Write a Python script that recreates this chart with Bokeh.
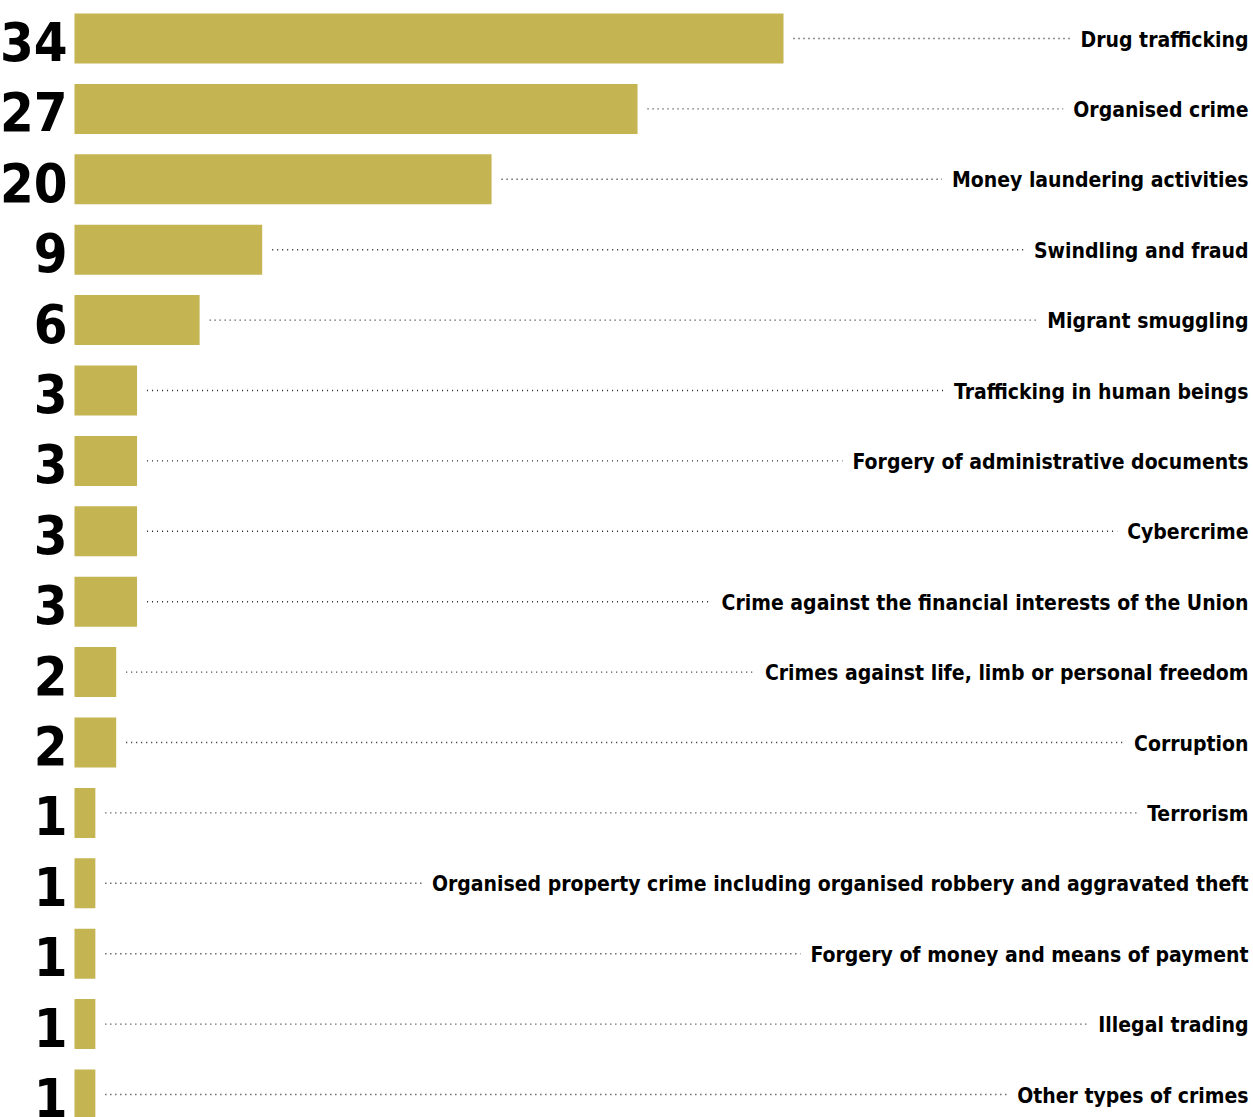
from bokeh.plotting import figure
from bokeh.models import ColumnDataSource, Range1d
from bokeh.core.properties import value
from bokeh.embed import file_html
from bokeh.resources import INLINE

categories = [
    "Drug trafficking",
    "Organised crime",
    "Money laundering activities",
    "Swindling and fraud",
    "Migrant smuggling",
    "Trafficking in human beings",
    "Forgery of administrative documents",
    "Cybercrime",
    "Crime against the financial interests of the Union",
    "Crimes against life, limb or personal freedom",
    "Corruption",
    "Terrorism",
    "Organised property crime including organised robbery and aggravated theft",
    "Forgery of money and means of payment",
    "Illegal trading",
    "Other types of crimes",
]
counts = [34, 27, 20, 9, 6, 3, 3, 3, 3, 2, 2, 1, 1, 1, 1, 1]

W, H = 1253, 1117
px_per_unit = (783 - 74) / 34.0
x_start = -74 / px_per_unit
x_end = (W - 74) / px_per_unit
pitch = 70.4
y_top = -38 / pitch
y_bot = y_top + H / pitch

rows = list(range(len(categories)))
src = ColumnDataSource(dict(
    y=rows,
    v=counts,
    lab=categories,
    num=[str(c) for c in counts],
    dot0=[c + 10 / px_per_unit for c in counts],
    dot1=[x_end] * len(counts),
    zero=[0] * len(counts),
    right=[x_end] * len(counts),
))

p = figure(width=W, height=H, output_backend="svg", toolbar_location=None,
           x_range=Range1d(x_start, x_end), y_range=Range1d(y_bot, y_top),
           min_border=0, outline_line_color=None)
p.axis.visible = False
p.grid.visible = False
p.background_fill_color = "white"
p.border_fill_color = "white"

p.hbar(y="y", left=0, right="v", height=50 / pitch, source=src,
       fill_color="#C4B452", line_color=None)

p.segment(x0="dot0", y0="y", x1="dot1", y1="y", source=src,
          line_color="#222222", line_width=1.4, line_dash="1 4")

p.text(x="right", y="y", text="lab", source=src, text_align="right",
       text_baseline="middle", x_offset=5, y_offset=1,
       text_font=value("DejaVu Sans Condensed"), text_font_style="bold",
       text_font_size="21px", text_color="black",
       background_fill_color="white", padding=10)

p.text(x="zero", y="y", text="num", source=src, text_align="right",
       text_baseline="middle", x_offset=-7, y_offset=3,
       text_font=value("DejaVu Sans Condensed"), text_font_style="bold",
       text_font_size="54px", text_color="black")

open("out.html", "w").write(file_html(p, INLINE))
